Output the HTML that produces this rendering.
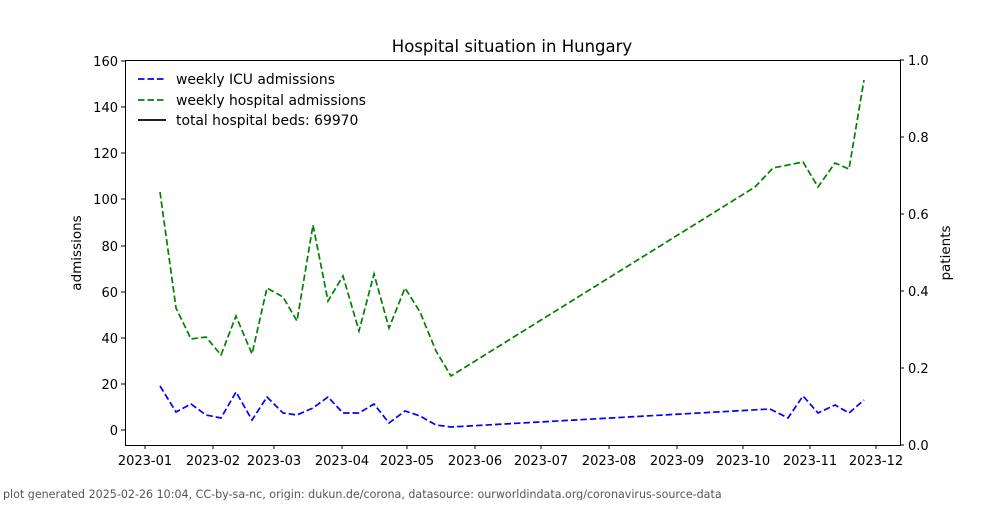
<!DOCTYPE html><html><head><style>body{margin:0;background:#fff}svg text{font-family:"DejaVu Sans","Liberation Sans",sans-serif}</style></head><body>
<svg width="1000" height="500" viewBox="0 0 1000 500">
<rect width="1000" height="500" fill="#fff"/>
<text x="512" y="52" font-size="16.5" text-anchor="middle">Hospital situation in Hungary</text>
<g fill="none" stroke-width="1.7" stroke-dasharray="6.5,3">
<polyline stroke="#008000" points="160,192 176,308 191,339 206,337 221,355 236,316 252,354 267,288 283,297 297,321 313,225 328,301 343,276 359,331 374,274 389,328 405,288 420,312 436,351 451,376 755,187 773,168 803,162 818,187 835,163 849,169 864,80"/>
<polyline stroke="#0000ff" points="160,386 176,412 191,404 206,415 221,418 236,392 252,420 267,397 283,413 297,415 313,408 328,397 343,413 359,413 374,404 389,423 405,411 420,416 436,425 451,427 770,409 788,418 803,396 818,413 835,405 849,413 864,400"/>
</g>
<rect x="125.5" y="60.5" width="775" height="385" fill="none" stroke="#000" stroke-width="1"/>
<g stroke="#000">
<line x1="121" x2="125" y1="430" y2="430"/><line x1="121" x2="125" y1="384" y2="384"/><line x1="121" x2="125" y1="338" y2="338"/><line x1="121" x2="125" y1="292" y2="292"/><line x1="121" x2="125" y1="246" y2="246"/><line x1="121" x2="125" y1="199" y2="199"/><line x1="121" x2="125" y1="153" y2="153"/><line x1="121" x2="125" y1="107" y2="107"/><line x1="121" x2="125" y1="61" y2="61"/>
</g>
<g font-size="13" text-anchor="end">
<text x="118" y="435">0</text><text x="118" y="389">20</text><text x="118" y="343">40</text><text x="118" y="297">60</text><text x="118" y="251">80</text><text x="118" y="204">100</text><text x="118" y="158">120</text><text x="118" y="112">140</text><text x="118" y="66">160</text>
</g>
<g stroke="#000"><line x1="900" x2="904" y1="445" y2="445"/><line x1="900" x2="904" y1="368" y2="368"/><line x1="900" x2="904" y1="291" y2="291"/><line x1="900" x2="904" y1="214" y2="214"/><line x1="900" x2="904" y1="137" y2="137"/><line x1="900" x2="904" y1="60" y2="60"/></g>
<g font-size="13"><text x="908" y="450">0.0</text><text x="908" y="373">0.2</text><text x="908" y="296">0.4</text><text x="908" y="219">0.6</text><text x="908" y="142">0.8</text><text x="908" y="65">1.0</text></g>
<g stroke="#000"><line x1="145" x2="145" y1="445" y2="449"/><line x1="213" x2="213" y1="445" y2="449"/><line x1="274" x2="274" y1="445" y2="449"/><line x1="342" x2="342" y1="445" y2="449"/><line x1="407" x2="407" y1="445" y2="449"/><line x1="475" x2="475" y1="445" y2="449"/><line x1="541" x2="541" y1="445" y2="449"/><line x1="609" x2="609" y1="445" y2="449"/><line x1="677" x2="677" y1="445" y2="449"/><line x1="743" x2="743" y1="445" y2="449"/><line x1="810" x2="810" y1="445" y2="449"/><line x1="876" x2="876" y1="445" y2="449"/></g>
<g font-size="13" text-anchor="middle"><text x="145" y="465">2023-01</text><text x="213" y="465">2023-02</text><text x="274" y="465">2023-03</text><text x="342" y="465">2023-04</text><text x="407" y="465">2023-05</text><text x="475" y="465">2023-06</text><text x="541" y="465">2023-07</text><text x="609" y="465">2023-08</text><text x="677" y="465">2023-09</text><text x="743" y="465">2023-10</text><text x="810" y="465">2023-11</text><text x="876" y="465">2023-12</text></g>
<text transform="translate(81,253) rotate(-90)" font-size="13.5" text-anchor="middle">admissions</text>
<text transform="translate(950,253) rotate(-90)" font-size="13.5" text-anchor="middle">patients</text>
<g stroke-width="1.7"><line x1="138" x2="166" y1="79" y2="79" stroke="#0000ff" stroke-dasharray="6.5,3"/><line x1="138" x2="166" y1="100" y2="100" stroke="#008000" stroke-dasharray="6.5,3"/><line x1="138" x2="166" y1="120" y2="120" stroke="#000"/></g>
<g font-size="13.9"><text x="176" y="84">weekly ICU admissions</text><text x="176" y="105">weekly hospital admissions</text><text x="176" y="125">total hospital beds: 69970</text></g>
<text x="3" y="498" font-size="11.1" fill="#555">plot generated 2025-02-26 10:04, CC-by-sa-nc, origin: dukun.de/corona, datasource: ourworldindata.org/coronavirus-source-data</text>
</svg></body></html>
